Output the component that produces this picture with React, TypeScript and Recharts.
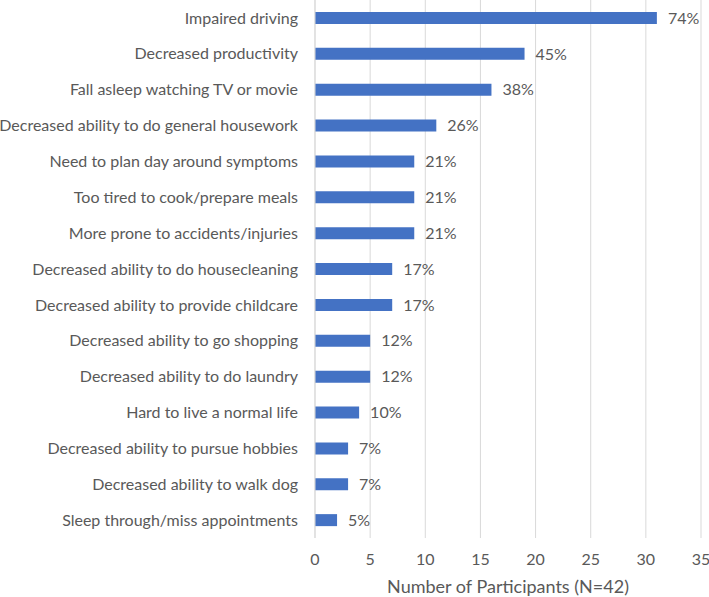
import React from 'react';
import { BarChart, Bar, XAxis, YAxis, CartesianGrid, LabelList } from 'recharts';

const categories = [
  'Impaired driving',
  'Decreased productivity',
  'Fall asleep watching TV or movie',
  'Decreased ability to do general housework',
  'Need to plan day around symptoms',
  'Too tired to cook/prepare meals',
  'More prone to accidents/injuries',
  'Decreased ability to do housecleaning',
  'Decreased ability to provide childcare',
  'Decreased ability to go shopping',
  'Decreased ability to do laundry',
  'Hard to live a normal life',
  'Decreased ability to pursue hobbies',
  'Decreased ability to walk dog',
  'Sleep through/miss appointments',
];
const participants = [31, 19, 16, 11, 9, 9, 9, 7, 7, 5, 5, 4, 3, 3, 2];
const percentLabels = ['74%', '45%', '38%', '26%', '21%', '21%', '21%', '17%', '17%', '12%', '12%', '10%', '7%', '7%', '5%'];
const xTicks = [0, 5, 10, 15, 20, 25, 30, 35];

const data = categories.map((name, i) => ({ name, value: participants[i], pct: percentLabels[i] }));

const FONT = 'Lato, "Open Sans", sans-serif';
const TEXT = '#595959';

export default function App() {
  return (
    <div style={{ position: 'absolute', left: 0, top: 0, width: 709, height: 597, background: '#fff' }}>
      <BarChart
        width={709}
        height={597}
        data={data}
        layout="vertical"
        margin={{ top: 0, right: 8, bottom: 0, left: 0 }}
      >
        <CartesianGrid horizontal={false} vertical={true} stroke="#D9D9D9" />
        <XAxis
          type="number"
          domain={[0, 35]}
          ticks={xTicks}
          axisLine={false}
          tickLine={false}
          tickSize={0}
          tickMargin={16}
          height={59}
          tick={{ fill: TEXT, fontSize: 16, fontFamily: FONT }}
          label={{
            value: 'Number of Participants (N=42)',
            position: 'insideBottom',
            offset: 4,
            fill: TEXT,
            fontSize: 18,
            fontFamily: FONT,
          }}
        />
        <YAxis
          type="category"
          dataKey="name"
          width={315}
          axisLine={{ stroke: '#D9D9D9' }}
          tickLine={false}
          tickSize={0}
          tickMargin={17}
          interval={0}
          tick={{ fill: TEXT, fontSize: 16, fontFamily: FONT }}
        />
        <Bar dataKey="value" fill="#4472C4" barSize={12} isAnimationActive={false}>
          <LabelList
            dataKey="pct"
            position="right"
            offset={11}
            fill={TEXT}
            fontSize={16}
            fontFamily={FONT}
          />
        </Bar>
      </BarChart>
    </div>
  );
}
